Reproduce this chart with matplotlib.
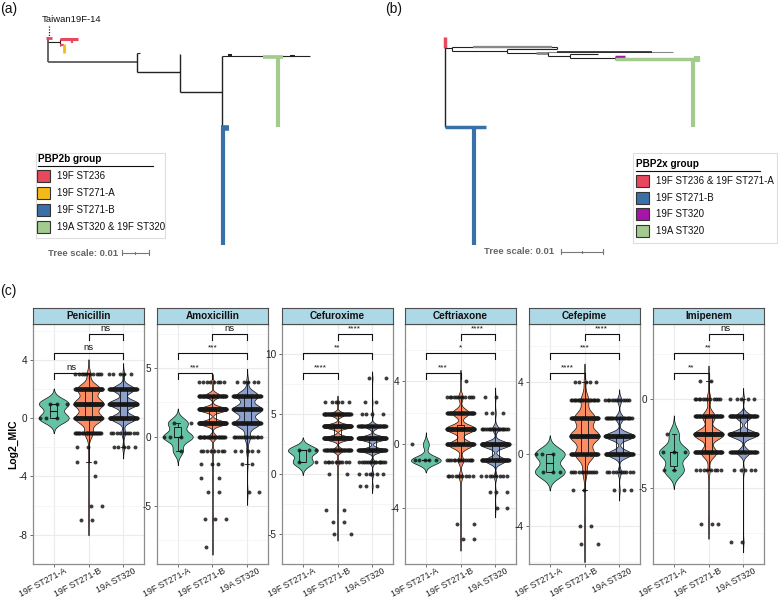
import numpy as np
import matplotlib
matplotlib.use('Agg')
import matplotlib.pyplot as plt
from matplotlib.patches import Rectangle
import matplotlib.transforms as mtrans

plt.rcParams['font.family'] = ['Liberation Sans', 'DejaVu Sans']

# ---------------- DATA ----------------
groups = ['19F ST271-A', '19F ST271-B', '19A ST320']
group_colors = ['#66C2A5', '#FC8D62', '#8DA0CB']
drugs = ['Penicillin', 'Amoxicillin', 'Cefuroxime', 'Ceftriaxone', 'Cefepime', 'Imipenem']

# log2 MIC value -> number of isolates, per group (A, B, C)
penicillin = [{1: 3, 0: 3},
              {3: 10, 2: 70, 1: 90, 0: 85, -1: 25, -2: 2, -3: 2, -4: 1, -6: 2, -7: 2},
              {3: 5, 2: 60, 1: 80, 0: 70, -1: 10, -2: 5}]
amoxicillin = [{1: 2, 0: 3, -1: 1},
               {4: 8, 3: 45, 2: 90, 1: 85, 0: 25, -1: 8, -2: 3, -3: 2, -4: 2, -6: 3, -8: 1},
               {4: 5, 3: 55, 2: 75, 1: 65, 0: 15, -1: 5, -2: 2, -4: 2}]
cefuroxime = [{2: 3, 1: 2},
              {6: 6, 5: 45, 4: 90, 3: 85, 2: 35, 1: 10, 0: 2, -3: 2, -4: 2, -5: 2},
              {8: 2, 6: 2, 5: 4, 4: 40, 3: 85, 2: 65, 1: 14, 0: 6, -1: 3}]
ceftriaxone = [{0: 1, -1: 5},
               {4: 1, 3: 12, 2: 45, 1: 80, 0: 65, -1: 15, -2: 10, -5: 2, -6: 2},
               {3: 2, 2: 3, 1: 18, 0: 85, -1: 60, -2: 8, -3: 3, -4: 2}]
cefepime = [{0: 3, -1: 3},
            {4: 5, 3: 22, 2: 60, 1: 85, 0: 55, -1: 12, -2: 2, -4: 2, -5: 2},
            {3: 12, 2: 22, 1: 85, 0: 70, -1: 10, -2: 3}]
imipenem = [{-2: 1, -3: 3, -4: 2},
            {1: 2, 0: 12, -1: 45, -2: 105, -3: 55, -4: 8, -7: 3},
            {0: 5, -1: 50, -2: 95, -3: 40, -4: 5, -8: 2}]
drug_counts = [penicillin, amoxicillin, cefuroxime, ceftriaxone, cefepime, imipenem]

# significance labels: (A vs B, A vs C, B vs C)
signif = [['ns', 'ns', 'ns'],
          ['***', '***', 'ns'],
          ['****', '**', '****'],
          ['***', '*', '****'],
          ['****', '***', '****'],
          ['**', '**', 'ns']]
yticks_major = [[-8, -4, 0, 4], [-5, 0, 5], [-5, 0, 5, 10], [-4, 0, 4], [-4, 0, 4], [-5, 0]]

# Trees: ('h', x0, x1, y) / ('v', x, y0, y1) ; x in substitutions/site, y = layout row
tree_colors = {'int': '#666666', 'blk': '#222222', 'gray': '#888888', 'red': '#E8475E',
               'orange': '#F5BA18', 'blue': '#3A70A8', 'green': '#A2CB8D', 'purple': '#A614A8'}
pbp2b_tree = [
    ('h', 0, 0.0330, 62, 'int', 1.4), ('v', 0, 37, 62, 'int', 1.4),
    ('h', 0, 0.0044, 42, 'blk', 0.8), ('v', 0.0044, 39, 46, 'blk', 0.8),
    ('h', 0.0044, 0.0111, 39, 'red', 2.2), ('v', 0.0089, 38, 43, 'red', 1.6),
    ('h', 0.0044, 0.0059, 45, 'red', 1.6), ('v', 0.0059, 44, 53, 'orange', 2.0),
    ('h', -0.0007, 0.0015, 38, 'red', 2.0),
    ('v', 0.0330, 53, 72, 'blk', 1.0), ('h', 0.0330, 0.0341, 53, 'blk', 0.8),
    ('h', 0.0330, 0.0489, 72, 'blk', 1.0),
    ('v', 0.0489, 54, 92, 'blk', 1.0), ('h', 0.0489, 0.0644, 92, 'blk', 1.0),
    ('v', 0.0644, 56, 128, 'blk', 1.0), ('h', 0.0644, 0.0970, 56, 'blk', 0.8),
    ('h', 0.0667, 0.0681, 55.5, 'blk', 1.5), ('h', 0.0896, 0.0915, 56, 'blk', 1.5),
    ('h', 0.0796, 0.0870, 57, 'green', 2.6), ('v', 0.0852, 57, 127, 'green', 3.0),
    ('h', 0.0640, 0.0670, 128, 'blue', 4.0), ('v', 0.0648, 128, 245, 'blue', 3.0),
]
pbp2x_tree = [
    ('v', 0, 47, 127, 'blk', 1.0), ('v', 0, 36.7, 48.3, 'red', 2.5),
    ('h', 0, 0.0016, 48.3, 'blk', 0.8), ('v', 0.0016, 47.3, 50.7, 'blk', 0.8),
    ('h', 0.0016, 0.0266, 47.3, 'blk', 0.8), ('h', 0.0067, 0.0255, 47.3, 'gray', 1.6),
    ('h', 0.0016, 0.0147, 50.7, 'blk', 0.8), ('v', 0.0147, 49.3, 53.3, 'blk', 0.8),
    ('h', 0.0147, 0.0266, 49.3, 'blk', 0.8), ('v', 0.0266, 47.3, 49.3, 'blk', 0.8),
    ('h', 0.0147, 0.0245, 53.3, 'blk', 0.8), ('h', 0.0216, 0.0245, 53.3, 'gray', 2.0),
    ('v', 0.0245, 52, 56, 'blk', 0.8),
    ('h', 0.0245, 0.0543, 52, 'gray', 0.8), ('h', 0.0266, 0.0492, 52, 'blk', 1.2),
    ('h', 0.0245, 0.0298, 56, 'blk', 0.8), ('v', 0.0298, 54, 57.7, 'blk', 0.8),
    ('h', 0.0298, 0.0364, 54, 'blk', 0.8), ('h', 0.0298, 0.0405, 57.7, 'blk', 0.8),
    ('v', 0.0405, 56.7, 58.7, 'blk', 0.8),
    ('h', 0.0405, 0.0429, 56.7, 'purple', 2.5),
    ('h', 0.0405, 0.0599, 58.7, 'green', 2.5), ('v', 0.0590, 58, 127, 'green', 3.0),
    ('v', 0.0599, 56, 62, 'green', 4.5),
    ('h', 0, 0.0098, 127, 'blue', 2.5), ('v', 0.0069, 126, 245, 'blue', 3.0),
]
pbp2b_legend = ['19F ST236', '19F ST271-A', '19F ST271-B', '19A ST320 & 19F ST320']
pbp2b_legend_colors = ['#E8475E', '#F5BA18', '#3A70A8', '#A2CB8D']
pbp2x_legend = ['19F ST236 & 19F ST271-A', '19F ST271-B', '19F ST320', '19A ST320']
pbp2x_legend_colors = ['#E8475E', '#3A70A8', '#A614A8', '#A2CB8D']
tree_scale = 0.01

# ---------------- LAYOUT ----------------
W, H = 778, 602
fig = plt.figure(figsize=(W / 100, H / 100), dpi=100)


def px_axes(x0, y0, x1, y1, **kw):
    return fig.add_axes([x0 / W, 1 - y1 / H, (x1 - x0) / W, (y1 - y0) / H], **kw)


# overlay in pixel coordinates
ov = px_axes(0, 0, W, H)
ov.set_xlim(0, W)
ov.set_ylim(H, 0)
ov.axis('off')
ov.patch.set_visible(False)

for lab, x, y in [('(a)', 0, 9), ('(b)', 385, 9), ('(c)', 0, 291)]:
    ov.text(x, y, lab, fontsize=10, ha='left', va='center', color='#111111')


def draw_tree(region, root_px, px_per_unit, segs, text_xy, bar_y):
    x0, y0, x1, y1 = region
    ax = px_axes(x0, y0, x1, y1)
    ax.set_xlim((x0 - root_px) / px_per_unit, (x1 - root_px) / px_per_unit)
    ax.set_ylim(y1, y0)
    ax.axis('off')
    ax.patch.set_visible(False)
    for s in segs:
        kind, a, b, c, col, lw = s
        if kind == 'h':
            ax.plot([a, b], [c, c], color=tree_colors[col], lw=lw, solid_capstyle='butt')
        else:
            ax.plot([a, a], [b, c], color=tree_colors[col], lw=lw, solid_capstyle='butt')
    # scale bar
    bx0 = text_xy
    ax.text(bx0, bar_y, 'Tree scale: 0.01', ha='right', va='center', fontsize=6.8,
            fontweight='bold', color='#666666')
    bs = bx0 + 0.0015
    ax.plot([bs, bs + tree_scale], [bar_y, bar_y], color='#777777', lw=0.8)
    for xx, hh in [(bs, 2.5), (bs + tree_scale, 2.5), (bs + tree_scale / 2, 1.0)]:
        ax.plot([xx, xx], [bar_y - hh, bar_y + hh], color='#777777', lw=0.8)
    return ax


axa = draw_tree((0, 0, 389, 300), 48, 2700, pbp2b_tree, 0.0259, 253)
axa.plot([0.0005, 0.0005], [26, 37], color='#222222', lw=0.9, ls=(0, (1, 1.2)))
axa.text(-0.0022, 20, 'Taiwan19F-14', fontsize=6.8, ha='left', va='center', color='#111111')
axb = draw_tree((389, 0, 778, 300), 445, 4200, pbp2x_tree, 0.0260, 252)


def draw_legend(box, title, labels, colors, title_xy, ul_end, rows, sq_x, sq_w, txt_x):
    bx0, by0, bx1, by1 = box
    ov.add_patch(Rectangle((bx0, by0), bx1 - bx0, by1 - by0, fill=False, ec='#DDDDDD', lw=0.8))
    ov.text(title_xy[0], title_xy[1], title, fontsize=7.2, fontweight='bold', ha='left', va='center')
    ov.plot([title_xy[0], ul_end], [title_xy[1] + 6.5, title_xy[1] + 6.5], color='#111111', lw=0.8)
    for lab, col, yy in zip(labels, colors, rows):
        ov.add_patch(Rectangle((sq_x, yy - 6), sq_w, 12, fc=col, ec='#333333', lw=0.8))
        ov.text(txt_x, yy, lab, fontsize=7.0, ha='left', va='center', color='#111111')


draw_legend((36, 153, 165, 238), 'PBP2b group', pbp2b_legend, pbp2b_legend_colors,
            (38, 159), 153, [176, 193, 210, 227], 37.5, 12.5, 57)
draw_legend((633, 153, 777, 243), 'PBP2x group', pbp2x_legend, pbp2x_legend_colors,
            (636, 164), 760, [181, 198, 214, 231], 636.5, 12.5, 656)

# ---------------- VIOLIN FACETS ----------------
panel_left = [33, 157, 282, 405, 529, 653]
panel_w = 111
ptop, pbot = 324, 564
strip_top = 308
ylims = [(-8.2, 6.45), (-9.23, 8.19), (-6.37, 12.53), (-7.56, 7.62), (-6.12, 7.22), (-9.25, 4.17)]
bracket_y = [0.795, 0.879, 0.958]
bracket_pairs = [(1, 2), (1, 3), (2, 3)]


def nrd0(x):
    sd = x.std(ddof=1)
    q75, q25 = np.percentile(x, [75, 25])
    lo = min(sd, (q75 - q25) / 1.34)
    if lo <= 0:
        lo = sd if sd > 0 else 1.0
    return 0.9 * lo * len(x) ** -0.2


def spread(n, off):
    k = np.arange(n)
    return ((k * 0.6180339887 + off) % 1.0 - 0.5) * 0.8


for pi, (drug, counts) in enumerate(zip(drugs, drug_counts)):
    x0 = panel_left[pi]
    ax = px_axes(x0, ptop, x0 + panel_w, pbot)
    sax = px_axes(x0, strip_top, x0 + panel_w, ptop)
    sax.set_facecolor('#ADD8E6')
    sax.set_xticks([])
    sax.set_yticks([])
    for sp in sax.spines.values():
        sp.set_color('#4D4D4D')
        sp.set_linewidth(0.8)
    sax.text(0.5, 0.5, drug, transform=sax.transAxes, ha='center', va='center',
             fontsize=7.2, fontweight='bold', color='#111111')

    for gi, cnt in enumerate(counts):
        xc = gi + 1
        levels = np.array(list(cnt.keys()), dtype=float)
        ns = np.array(list(cnt.values()))
        vals = np.repeat(levels, ns)
        bw = nrd0(vals) * (0.85 if len(vals) > 20 else 1.0)
        grid = np.linspace(vals.min() - 3 * bw, vals.max() + 3 * bw, 600)
        dens = np.exp(-0.5 * ((grid[:, None] - vals[None, :]) / bw) ** 2).sum(1)
        hw = 0.43 * dens / dens.max()
        ax.fill_betweenx(grid, xc - hw, xc + hw, facecolor=group_colors[gi],
                         edgecolor='#111111', lw=0.5, zorder=2)
        # points
        px, py = [], []
        for lv, n in zip(levels, ns):
            px.extend(xc + spread(n, (lv * 0.37 + gi * 0.21) % 1.0))
            py.extend([lv] * n)
        ax.scatter(px, py, s=8, c='#1A1A1A', alpha=0.85, lw=0, zorder=3)
        # boxplot
        q1, med, q3 = np.percentile(vals, [25, 50, 75])
        iqr = q3 - q1
        lo = vals[vals >= q1 - 1.5 * iqr].min()
        hi = vals[vals <= q3 + 1.5 * iqr].max()
        bh = 0.1
        ax.add_patch(Rectangle((xc - bh, q1), 2 * bh, q3 - q1, fill=False, ec='#111111', lw=0.6, zorder=4))
        ax.plot([xc - bh, xc + bh], [med, med], color='#111111', lw=0.8, zorder=4)
        ax.plot([xc, xc], [q3, hi], color='#111111', lw=0.6, zorder=4)
        ax.plot([xc, xc], [lo, q1], color='#111111', lw=0.6, zorder=4)
        ax.plot([xc - 0.06, xc + 0.06], [hi, hi], color='#111111', lw=0.6, zorder=4)
        ax.plot([xc - 0.06, xc + 0.06], [lo, lo], color='#111111', lw=0.6, zorder=4)

    # significance brackets
    tr = ax.get_xaxis_transform()
    for (a, b), yb, lab in zip(bracket_pairs, bracket_y, signif[pi]):
        ax.plot([a, a, b, b], [yb - 0.026, yb, yb, yb - 0.026], color='#111111', lw=0.8,
                transform=tr, zorder=5, clip_on=False)
        ax.text((a + b) / 2, yb + 0.006, lab, transform=tr, ha='center', va='bottom',
                fontsize=6.8 if lab == 'ns' else 6.0, color='#111111')

    ax.set_xlim(0.4, 3.6)
    ax.set_ylim(*ylims[pi])
    ax.set_xticks([1, 2, 3])
    maj = yticks_major[pi]
    step = maj[1] - maj[0]
    ax.set_yticks(maj)
    minors = [m + step / 2 for m in [maj[0] - step] + maj]
    ax.set_yticks(minors, minor=True)
    ax.grid(which='major', color='#EBEBEB', lw=0.8)
    ax.grid(which='minor', axis='y', color='#F3F3F3', lw=0.5)
    ax.set_axisbelow(True)
    ax.tick_params(axis='both', which='major', length=2.5, width=0.5, color='#333333',
                   labelsize=7.2, labelcolor='#222222', pad=1.5)
    ax.tick_params(axis='x', which='major', pad=0.5)
    ax.tick_params(axis='y', which='minor', length=0)
    ax.set_yticklabels([str(t) for t in maj])
    ax.set_xticklabels(groups, rotation=28, ha='right', va='top', rotation_mode='anchor',
                       fontsize=6.3)
    off = mtrans.ScaledTranslation(10 / 100, 1.5 / 100, fig.dpi_scale_trans)
    for lbl in ax.get_xticklabels():
        lbl.set_transform(lbl.get_transform() + off)
    for sp in ax.spines.values():
        sp.set_color('#8C8C8C')
        sp.set_linewidth(0.9)
    if pi == 0:
        ax.set_ylabel('Log2_MIC', fontsize=7.5, fontweight='bold', labelpad=0)

fig.savefig('out.png', dpi=100)
